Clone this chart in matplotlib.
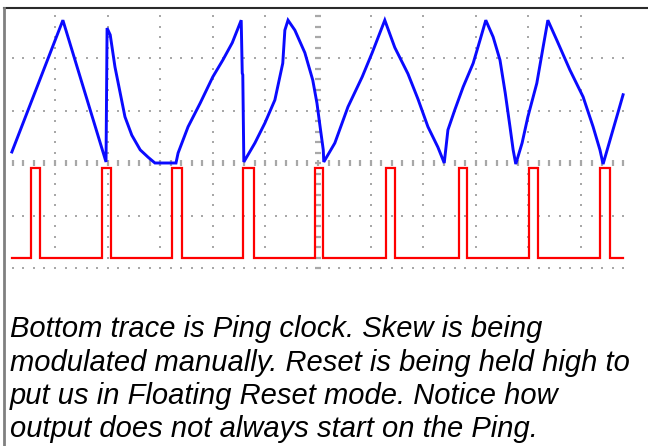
import numpy as np
import matplotlib
matplotlib.use("Agg")
import matplotlib.pyplot as plt
from matplotlib.lines import Line2D

# ---- data (time and voltage in screen divisions) ----
blue_t = [-5.82, -4.85, -4.03, -4.01, -3.95, -3.86, -3.76, -3.67, -3.54, -3.38, -3.23, -3.10,
          -2.70, -2.66, -2.47, -2.24, -2.00, -1.81, -1.63, -1.46, -1.44, -1.43, -1.41, -1.20,
          -1.01, -0.82, -0.67, -0.63, -0.57, -0.44, -0.25, -0.10, -0.02, 0.04, 0.10, 0.11,
          0.32, 0.57, 0.84, 1.03, 1.27, 1.46, 1.71, 1.90, 2.09, 2.28, 2.40, 2.47, 2.60, 2.76,
          2.95, 3.08, 3.19, 3.33, 3.46, 3.56, 3.65, 3.71, 3.76, 3.88, 3.99, 4.16, 4.28, 4.37,
          4.54, 4.79, 5.04, 5.23, 5.36, 5.42, 5.59, 5.70, 5.80]
blue_v = [0.21, 2.72, 0.02, 2.57, 2.44, 1.83, 1.33, 0.88, 0.53, 0.25, 0.11, 0.00,
          0.00, 0.19, 0.69, 1.14, 1.64, 1.96, 2.29, 2.72, 1.71, 1.68, 0.02, 0.38,
          0.76, 1.20, 1.90, 2.53, 2.72, 2.53, 2.10, 1.58, 1.14, 0.69, 0.25, 0.02,
          0.38, 1.07, 1.64, 2.10, 2.72, 2.20, 1.70, 1.22, 0.69, 0.30, 0.00, 0.63, 1.01, 1.45,
          1.90, 2.34, 2.72, 2.40, 1.96, 1.33, 0.69, 0.25, -0.02, 0.38, 0.88, 1.52, 2.21, 2.72,
          2.34, 1.77, 1.26, 0.69, 0.25, -0.02, 0.57, 0.95, 1.30]

ping_rise = [-5.46, -4.11, -2.78, -1.43, -0.06, 1.29, 2.68, 4.01, 5.36]
ping_fall = [-5.29, -3.94, -2.59, -1.22, 0.10, 1.46, 2.83, 4.18, 5.55]
ping_low = -1.81
ping_high = -0.10
trace_start, trace_end = -5.82, 5.80

caption_lines = [
    "Bottom trace is Ping clock. Skew is being",
    "modulated manually. Reset is being held high to",
    "put us in Floating Reset mode. Notice how",
    "output does not always start on the Ping.",
]

# ---- figure ----
W, H, DPI = 648, 446, 100
fig = plt.figure(figsize=(W / DPI, H / DPI), dpi=DPI)
fig.patch.set_facecolor("white")

xlim = (-6.0, 6.0)
ylim = (-2.2, 3.0)
px_per_div_x, px_per_div_y = 52.6, 52.5
cx, cy = 318.0, 163.0
left_px = cx + xlim[0] * px_per_div_x
width_px = (xlim[1] - xlim[0]) * px_per_div_x
top_px = cy - ylim[1] * px_per_div_y
height_px = (ylim[1] - ylim[0]) * px_per_div_y
ax = fig.add_axes([left_px / W, 1 - (top_px + height_px) / H, width_px / W, height_px / H])
ax.set_xlim(*xlim)
ax.set_ylim(*ylim)
ax.set_facecolor("none")
ax.axis("off")

# graticule
gcol = "#a8a8a8"
fine_x = np.round(np.arange(-5.8, 5.81, 0.2), 2)
fine_y = np.round(np.arange(-2.0, 2.81, 0.2), 2)
for row in [-2, -1, 1, 2]:
    ax.plot(fine_x, np.full_like(fine_x, row), ls="none", marker="s", ms=1.6, color=gcol, mew=0)
for col in [-5, -4, -3, -2, -1, 1, 2, 3, 4, 5]:
    ax.plot(np.full_like(fine_y, col), fine_y, ls="none", marker="s", ms=1.6, color=gcol, mew=0)
# centre row / column with tick dashes
ax.plot(fine_x, np.zeros_like(fine_x), ls="none", marker="|", ms=5, mew=1.6, color=gcol)
ax.plot(np.zeros_like(fine_y), fine_y, ls="none", marker="_", ms=5, mew=1.6, color=gcol)

# Ping clock (red square pulses)
rt, rv = [trace_start], [ping_low]
for r, f in zip(ping_rise, ping_fall):
    rt += [r, r, f, f]
    rv += [ping_low, ping_high, ping_high, ping_low]
rt.append(trace_end)
rv.append(ping_low)
ax.plot(rt, rv, color="#ff0000", lw=1.6, solid_joinstyle="miter")

# output (blue)
ax.plot(blue_t, blue_v, color="#0a0aff", lw=2.1, solid_joinstyle="miter")

# frame
fig.add_artist(Line2D([4 / W, 1.0], [1 - 8 / H, 1 - 8 / H], color="#2a2a2a", lw=1.5))
fig.add_artist(Line2D([4 / W, 4 / W], [1 - 8 / H, 0.0], color="#808080", lw=2.0))

# caption
baselines = [337, 371, 404, 437]
for line, b in zip(caption_lines, baselines):
    fig.text(10 / W, 1 - b / H, line, fontsize=21, style="italic",
             family=["Liberation Sans", "DejaVu Sans"], va="baseline", ha="left", color="black")

fig.savefig("out.png", dpi=DPI)
